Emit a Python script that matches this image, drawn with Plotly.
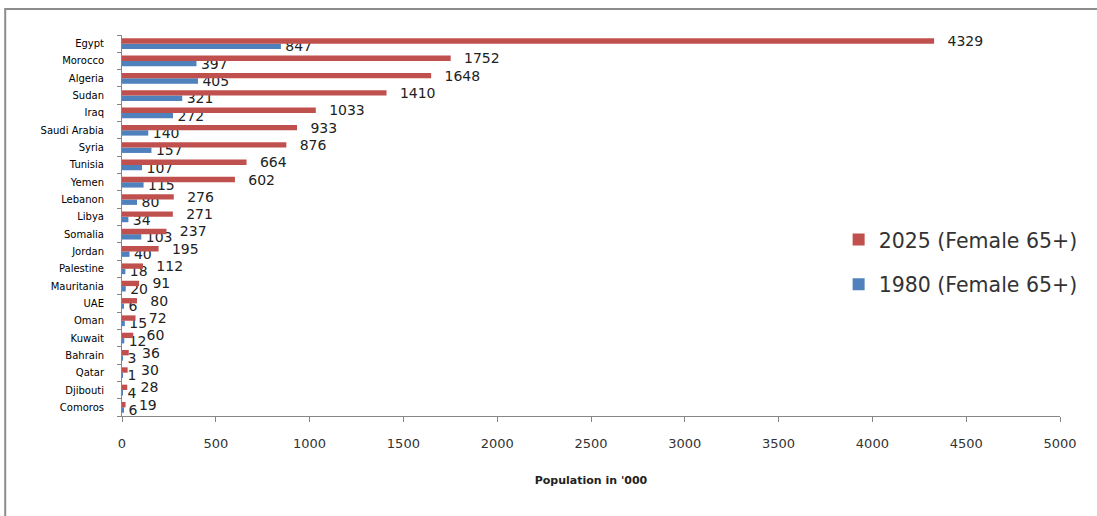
import plotly.graph_objects as go

# Arab countries: female population aged 65+ (thousands)
countries = ["Egypt", "Morocco", "Algeria", "Sudan", "Iraq", "Saudi Arabia", "Syria",
             "Tunisia", "Yemen", "Lebanon", "Libya", "Somalia", "Jordan", "Palestine",
             "Mauritania", "UAE", "Oman", "Kuwait", "Bahrain", "Qatar", "Djibouti", "Comoros"]
female_2025 = [4329, 1752, 1648, 1410, 1033, 933, 876, 664, 602, 276, 271, 237, 195, 112,
               91, 80, 72, 60, 36, 30, 28, 19]
female_1980 = [847, 397, 405, 321, 272, 140, 157, 107, 115, 80, 34, 103, 40, 18,
               20, 6, 15, 12, 3, 1, 4, 6]
x_ticks = [0, 500, 1000, 1500, 2000, 2500, 3000, 3500, 4000, 4500, 5000]

RED = "#C0504D"
BLUE = "#4F81BD"
NB = "\u00a0"

fig = go.Figure()
fig.add_trace(go.Bar(
    y=countries, x=female_1980, orientation="h", name="1980 (Female 65+)",
    marker=dict(color=BLUE, line=dict(width=0)),
    text=[NB + str(v) for v in female_1980], textposition="outside",
    constraintext="none", cliponaxis=False,
    textfont=dict(family="DejaVu Sans", size=14, color="#222222"),
    legendgroup="b", legendrank=2,
))
fig.add_trace(go.Bar(
    y=countries, x=female_2025, orientation="h", name="2025 (Female 65+)",
    marker=dict(color=RED, line=dict(width=0)),
    text=[NB * 3 + str(v) for v in female_2025], textposition="outside",
    constraintext="none", cliponaxis=False,
    textfont=dict(family="DejaVu Sans", size=14, color="#222222"),
    legendgroup="a", legendrank=1,
))

fig.update_layout(
    width=1097, height=516,
    margin=dict(l=122, r=37, t=35, b=100),
    paper_bgcolor="white", plot_bgcolor="white",
    barmode="group", bargap=0.38, bargroupgap=0,
    showlegend=True,
    legend=dict(x=0.764, y=0.515, xanchor="left", yanchor="top",
                font=dict(family="DejaVu Sans", size=20.5, color="#333333"),
                tracegroupgap=15, bgcolor="rgba(0,0,0,0)"),
    font=dict(family="DejaVu Sans", color="#222222"),
    shapes=[dict(type="rect", xref="paper", yref="paper",
                 x0=-0.1245, x1=1.2, y0=-0.5, y1=1.068,
                 line=dict(color="#8C8C8C", width=2), layer="below")],
)

fig.update_xaxes(
    range=[0, 5000], tickvals=x_ticks, ticktext=[str(v) for v in x_ticks],
    showgrid=False, zeroline=False,
    showline=True, linecolor="#868686", linewidth=1,
    ticks="outside", ticklen=5, tickcolor="#868686",
    ticklabelstandoff=10,
    tickfont=dict(family="DejaVu Sans", size=13, color="#333333"),
    title=dict(text="<b>Population in '000</b>", standoff=26,
               font=dict(family="DejaVu Sans", size=11, color="#222222")),
)
fig.update_yaxes(
    categoryorder="array", categoryarray=countries[::-1],
    autorange=False, range=[-0.5, len(countries) - 0.5],
    showgrid=False, zeroline=False,
    showline=True, linecolor="#868686", linewidth=1,
    ticks="outside", ticklen=4, tickcolor="#868686", tickson="boundaries",
    ticklabelstandoff=15,
    tickfont=dict(family="DejaVu Sans", size=10, color="#000000"),
)

fig.write_html("out.html")
